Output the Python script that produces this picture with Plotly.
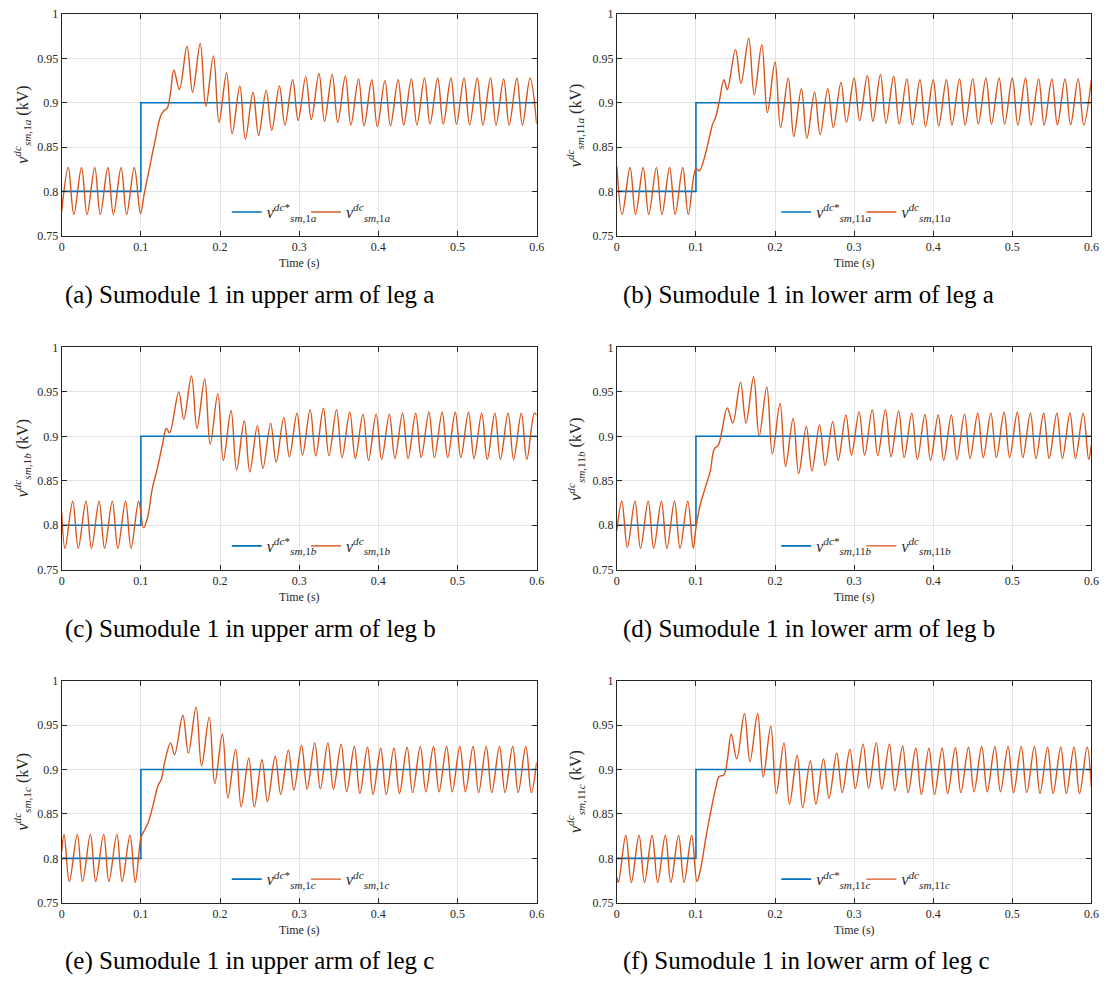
import plotly.graph_objects as go

# ---------------- data ----------------
# reference step (kV): 0.8 before t = 0.1 s, 0.9 after
step_t = [0, 0.1, 0.1, 0.6]
step_v = [0.8, 0.8, 0.9, 0.9]

x_ticks = [0, 0.1, 0.2, 0.3, 0.4, 0.5, 0.6]
y_ticks = [0.75, 0.8, 0.85, 0.9, 0.95, 1]

# measured capacitor voltage: (time s, value kV) at the read extrema / shape points
meas_a = [(0, 0.778), (0.0083, 0.827), (0.0153, 0.774), (0.025, 0.827), (0.032, 0.774), (0.0417, 0.827),
          (0.0487, 0.774), (0.0583, 0.827), (0.0653, 0.774), (0.075, 0.827), (0.082, 0.774), (0.0917, 0.827),
          (0.0995, 0.775), (0.1042, 0.797), (0.1083, 0.815), (0.1167, 0.852), (0.125, 0.885), (0.1292, 0.891),
          (0.1333, 0.894), (0.1375, 0.912), (0.1417, 0.937), (0.1487, 0.915), (0.1583, 0.964), (0.1653, 0.912),
          (0.175, 0.967), (0.182, 0.896), (0.1917, 0.953), (0.1987, 0.878), (0.2083, 0.934), (0.2153, 0.865),
          (0.225, 0.919), (0.232, 0.859), (0.2417, 0.912), (0.2487, 0.863), (0.2583, 0.914), (0.2653, 0.869),
          (0.275, 0.919), (0.282, 0.875), (0.2917, 0.926), (0.2987, 0.880), (0.3083, 0.9295), (0.3153, 0.881),
          (0.325, 0.933), (0.332, 0.879), (0.3417, 0.932), (0.3487, 0.878), (0.3583, 0.930), (0.3653, 0.875),
          (0.375, 0.927), (0.382, 0.874), (0.3917, 0.926), (0.3987, 0.873), (0.4083, 0.925), (0.4153, 0.874),
          (0.425, 0.926), (0.432, 0.875), (0.4417, 0.927), (0.4487, 0.875), (0.4583, 0.928), (0.4653, 0.876),
          (0.475, 0.928), (0.482, 0.876), (0.4917, 0.928), (0.4987, 0.876), (0.5083, 0.928), (0.5153, 0.875),
          (0.525, 0.928), (0.532, 0.875), (0.5417, 0.928), (0.5487, 0.875), (0.5583, 0.927), (0.5653, 0.875),
          (0.575, 0.928), (0.582, 0.875), (0.5917, 0.928), (0.6, 0.876)]

meas_b = [(0, 0.828), (0.0067, 0.774), (0.0167, 0.827), (0.0237, 0.774), (0.0333, 0.827), (0.0403, 0.774),
          (0.05, 0.827), (0.057, 0.774), (0.0667, 0.827), (0.0737, 0.774), (0.0833, 0.827), (0.0903, 0.774),
          (0.1, 0.826), (0.1042, 0.823), (0.1104, 0.837), (0.1167, 0.860), (0.1208, 0.875), (0.125, 0.884),
          (0.1292, 0.900), (0.1354, 0.926), (0.1396, 0.915), (0.15, 0.960), (0.157, 0.922), (0.1667, 0.973),
          (0.1737, 0.909), (0.1833, 0.9655), (0.1903, 0.889), (0.2, 0.946), (0.207, 0.872), (0.2167, 0.928),
          (0.2237, 0.862), (0.2333, 0.916), (0.2403, 0.860), (0.25, 0.912), (0.257, 0.864), (0.2667, 0.916),
          (0.2737, 0.872), (0.2833, 0.923), (0.2903, 0.878), (0.3, 0.928), (0.307, 0.880), (0.3167, 0.931),
          (0.3237, 0.879), (0.3333, 0.932), (0.3403, 0.877), (0.35, 0.930), (0.357, 0.876), (0.3667, 0.927),
          (0.3737, 0.875), (0.3833, 0.926), (0.3903, 0.873), (0.4, 0.926), (0.407, 0.874), (0.4167, 0.926),
          (0.4237, 0.875), (0.4333, 0.927), (0.4403, 0.875), (0.45, 0.927), (0.457, 0.876), (0.4667, 0.928),
          (0.4737, 0.876), (0.4833, 0.928), (0.4903, 0.876), (0.5, 0.928), (0.507, 0.875), (0.5167, 0.928),
          (0.5237, 0.875), (0.5333, 0.927), (0.5403, 0.875), (0.55, 0.927), (0.557, 0.875), (0.5667, 0.927),
          (0.5737, 0.875), (0.5833, 0.927), (0.5903, 0.875), (0.6, 0.926)]

meas_c = [(0, 0.814), (0.0042, 0.774), (0.0139, 0.827), (0.0209, 0.774), (0.0306, 0.827), (0.0376, 0.774),
          (0.0472, 0.827), (0.0542, 0.774), (0.0639, 0.827), (0.0709, 0.774), (0.0806, 0.827), (0.0876, 0.774),
          (0.0972, 0.827), (0.1033, 0.797), (0.1083, 0.808), (0.1146, 0.842), (0.1208, 0.864), (0.1271, 0.890),
          (0.1321, 0.909), (0.1363, 0.904), (0.1479, 0.950), (0.1542, 0.919), (0.1639, 0.968), (0.1709, 0.909),
          (0.1806, 0.9645), (0.1876, 0.891), (0.1972, 0.948), (0.2042, 0.873), (0.2139, 0.929), (0.2209, 0.862),
          (0.2306, 0.9175), (0.2376, 0.860), (0.2472, 0.912), (0.2542, 0.864), (0.2639, 0.9146), (0.2709, 0.871),
          (0.2806, 0.921), (0.2876, 0.877), (0.2972, 0.926), (0.3042, 0.879), (0.3139, 0.930), (0.3209, 0.878),
          (0.3306, 0.9315), (0.3376, 0.878), (0.3472, 0.930), (0.3542, 0.876), (0.3639, 0.9275), (0.3709, 0.875),
          (0.3806, 0.925), (0.3876, 0.873), (0.3972, 0.925), (0.4042, 0.874), (0.4139, 0.925), (0.4209, 0.875),
          (0.4306, 0.926), (0.4376, 0.875), (0.4472, 0.926), (0.4542, 0.876), (0.4639, 0.927), (0.4709, 0.876),
          (0.4806, 0.927), (0.4876, 0.876), (0.4972, 0.927), (0.5042, 0.876), (0.5139, 0.927), (0.5209, 0.875),
          (0.5306, 0.926), (0.5376, 0.874), (0.5472, 0.926), (0.5542, 0.874), (0.5639, 0.926), (0.5709, 0.874),
          (0.5806, 0.926), (0.5876, 0.874), (0.5972, 0.926), (0.6, 0.924)]

meas_d = [(0, 0.794), (0.0063, 0.827), (0.0133, 0.775), (0.0229, 0.827), (0.0299, 0.774), (0.0396, 0.827),
          (0.0466, 0.774), (0.0563, 0.827), (0.0633, 0.774), (0.0729, 0.827), (0.0799, 0.774), (0.0896, 0.827),
          (0.0966, 0.774), (0.1, 0.797), (0.1054, 0.823), (0.1117, 0.842), (0.1179, 0.860), (0.1233, 0.886),
          (0.1283, 0.890), (0.1325, 0.9046), (0.1396, 0.932), (0.1466, 0.915), (0.1563, 0.961), (0.1633, 0.915),
          (0.1729, 0.967), (0.1799, 0.900), (0.1896, 0.9556), (0.1966, 0.880), (0.2063, 0.937), (0.2133, 0.866),
          (0.2229, 0.920), (0.2299, 0.858), (0.2396, 0.911), (0.2466, 0.861), (0.2563, 0.9127), (0.2633, 0.867),
          (0.2729, 0.9164), (0.2799, 0.873), (0.2896, 0.924), (0.2966, 0.879), (0.3063, 0.9275), (0.3133, 0.879),
          (0.3229, 0.930), (0.3299, 0.878), (0.3396, 0.930), (0.3466, 0.877), (0.3563, 0.9286), (0.3633, 0.876),
          (0.3729, 0.926), (0.3799, 0.874), (0.3896, 0.9246), (0.3966, 0.873), (0.4063, 0.924), (0.4133, 0.873),
          (0.4229, 0.924), (0.4299, 0.874), (0.4396, 0.925), (0.4466, 0.875), (0.4563, 0.926), (0.4633, 0.876),
          (0.4729, 0.926), (0.4799, 0.876), (0.4896, 0.927), (0.4966, 0.876), (0.5063, 0.927), (0.5133, 0.876),
          (0.5229, 0.926), (0.5299, 0.875), (0.5396, 0.926), (0.5466, 0.875), (0.5563, 0.926), (0.5633, 0.875),
          (0.5729, 0.926), (0.5799, 0.875), (0.5896, 0.926), (0.5966, 0.874), (0.6, 0.890)]

meas_e = [(0, 0.808), (0.003, 0.827), (0.0096, 0.774), (0.0197, 0.827), (0.0263, 0.774), (0.0363, 0.827),
          (0.0429, 0.774), (0.053, 0.827), (0.0596, 0.774), (0.0697, 0.827), (0.0763, 0.774), (0.0863, 0.826),
          (0.0929, 0.773), (0.1, 0.823), (0.1029, 0.829), (0.1092, 0.840), (0.1154, 0.860), (0.1217, 0.882),
          (0.1258, 0.889), (0.13, 0.908), (0.1375, 0.930), (0.1425, 0.9165), (0.153, 0.961), (0.16, 0.9186),
          (0.1697, 0.970), (0.1767, 0.904), (0.1863, 0.959), (0.1933, 0.884), (0.203, 0.940), (0.21, 0.868),
          (0.2197, 0.923), (0.2267, 0.858), (0.2363, 0.913), (0.2433, 0.858), (0.253, 0.911), (0.26, 0.864),
          (0.2697, 0.915), (0.2767, 0.872), (0.2863, 0.922), (0.2933, 0.877), (0.303, 0.927), (0.31, 0.878),
          (0.3197, 0.930), (0.3267, 0.878), (0.3363, 0.930), (0.3433, 0.878), (0.353, 0.9286), (0.36, 0.875),
          (0.3697, 0.926), (0.3767, 0.873), (0.3863, 0.925), (0.3933, 0.872), (0.403, 0.924), (0.41, 0.872),
          (0.4197, 0.924), (0.4267, 0.873), (0.4363, 0.925), (0.4433, 0.874), (0.453, 0.926), (0.46, 0.875),
          (0.4697, 0.926), (0.4767, 0.875), (0.4863, 0.926), (0.4933, 0.875), (0.503, 0.926), (0.51, 0.875),
          (0.5197, 0.926), (0.5267, 0.874), (0.5363, 0.926), (0.5433, 0.874), (0.553, 0.926), (0.56, 0.874),
          (0.5697, 0.926), (0.5767, 0.874), (0.5863, 0.926), (0.5933, 0.874), (0.6, 0.908)]

meas_f = [(0, 0.779), (0.002, 0.773), (0.0113, 0.826), (0.0183, 0.773), (0.028, 0.826), (0.035, 0.773),
          (0.0446, 0.826), (0.0516, 0.773), (0.0613, 0.826), (0.0683, 0.773), (0.078, 0.826), (0.085, 0.773),
          (0.0946, 0.826), (0.1013, 0.774), (0.1063, 0.790), (0.1125, 0.823), (0.1188, 0.853), (0.125, 0.879),
          (0.1292, 0.892), (0.1354, 0.894), (0.1396, 0.910), (0.1446, 0.940), (0.1516, 0.912), (0.1613, 0.963),
          (0.1683, 0.909), (0.178, 0.963), (0.185, 0.8917), (0.1946, 0.949), (0.2016, 0.873), (0.2113, 0.930),
          (0.2183, 0.861), (0.228, 0.916), (0.235, 0.857), (0.2446, 0.910), (0.2516, 0.861), (0.2613, 0.912),
          (0.2683, 0.8676), (0.278, 0.9186), (0.285, 0.874), (0.2946, 0.923), (0.3016, 0.879), (0.3113, 0.9286),
          (0.3183, 0.879), (0.328, 0.930), (0.335, 0.878), (0.3446, 0.9286), (0.3516, 0.876), (0.3613, 0.9265),
          (0.3683, 0.874), (0.378, 0.924), (0.385, 0.872), (0.3946, 0.924), (0.4016, 0.872), (0.4113, 0.924),
          (0.4183, 0.873), (0.428, 0.9245), (0.435, 0.874), (0.4446, 0.925), (0.4516, 0.875), (0.4613, 0.926),
          (0.4683, 0.875), (0.478, 0.926), (0.485, 0.875), (0.4946, 0.926), (0.5016, 0.874), (0.5113, 0.926),
          (0.5183, 0.874), (0.528, 0.926), (0.535, 0.873), (0.5446, 0.925), (0.5516, 0.873), (0.5613, 0.925),
          (0.5683, 0.873), (0.578, 0.925), (0.585, 0.873), (0.5946, 0.925), (0.6, 0.880)]

sub_ids = ["1a", "11a", "1b", "11b", "1c", "11c"]
captions = ["(a) Sumodule 1 in upper arm of leg a", "(b) Sumodule 1 in lower arm of leg a",
            "(c) Sumodule 1 in upper arm of leg b", "(d) Sumodule 1 in lower arm of leg b",
            "(e) Sumodule 1 in upper arm of leg c", "(f) Sumodule 1 in lower arm of leg c"]
measured = [meas_a, meas_b, meas_c, meas_d, meas_e, meas_f]

# ---------------- layout geometry (pixels) ----------------
W, H = 1109, 991
col_px = [(59.3, 539.0), (620.0, 1099.3)]
row_px = [(7.3, 232.0), (345.3, 570.7), (683.3, 908.7)]
ytitle_x = [19, 578]
caption_x = [61, 624]
caption_y = [292, 631, 968]
legend_x = [226, 781]
legend_step = [80, 86]

BLUE = "#0072BD"
ORANGE = "#D95319"
AX = "#262626"
GRID = "#E3E3E3"
SERIF = "Liberation Serif, Times New Roman, Times, serif"


def sub_label(sid):
    num = "".join(ch for ch in sid if ch.isdigit())
    let = "".join(ch for ch in sid if not ch.isdigit())
    return f"<i>sm</i>,{num}<i>{let}</i>"


def legend_name(k):
    return "legend" if k == 1 else f"legend{k}"


fig = go.Figure()
layout = dict(width=W, height=H, margin=dict(l=0, r=0, t=0, b=0),
              paper_bgcolor="white", plot_bgcolor="white", showlegend=True,
              font=dict(family=SERIF, color=AX),
              annotations=[])

for i in range(6):
    r, c = divmod(i, 2)
    n = i + 1
    xs = "" if n == 1 else str(n)
    lg_ref = legend_name(2 * i + 1)
    lg_meas = legend_name(2 * i + 2)
    pts = measured[i]
    sl = sub_label(sub_ids[i])

    fig.add_trace(go.Scatter(
        x=step_t, y=step_v, mode="lines", line=dict(color=BLUE, width=1.6),
        name=f"<i>v</i><sup><i>dc</i>*</sup><sub>{sl}</sub>",
        xaxis=f"x{xs}", yaxis=f"y{xs}", legend=lg_ref))
    fig.add_trace(go.Scatter(
        x=[p[0] for p in pts], y=[p[1] for p in pts], mode="lines",
        line=dict(color=ORANGE, width=1.4, shape="spline", smoothing=1.0),
        name=f"<i>v</i><sup><i>dc</i></sup><sub>{sl}</sub>",
        xaxis=f"x{xs}", yaxis=f"y{xs}", legend=lg_meas))

    x0, x1 = col_px[c]
    yt, yb = row_px[r]
    common = dict(showline=True, linecolor=AX, linewidth=1, mirror="ticks",
                  ticks="inside", ticklen=5, tickcolor=AX, tickwidth=1,
                  showgrid=True, gridcolor=GRID, gridwidth=1, zeroline=False,
                  tickfont=dict(family=SERIF, size=12, color=AX))
    layout[f"xaxis{xs}"] = dict(domain=[x0 / W, x1 / W], anchor=f"y{xs}",
                                range=[0, 0.6], tickvals=x_ticks,
                                ticktext=[f"{v:g}" for v in x_ticks], **common)
    layout[f"yaxis{xs}"] = dict(domain=[1 - yb / H, 1 - yt / H], anchor=f"x{xs}",
                                range=[0.75, 1], tickvals=y_ticks,
                                ticktext=[f"{v:g}" for v in y_ticks], **common)

    leg_common = dict(y=1 - (yb - 24) / H, xanchor="left", yanchor="middle",
                      orientation="h", bgcolor="rgba(0,0,0,0)", borderwidth=0,
                      font=dict(family=SERIF, size=16, color=AX), itemwidth=30)
    layout[lg_ref] = dict(x=legend_x[c] / W, **leg_common)
    layout[lg_meas] = dict(x=(legend_x[c] + legend_step[c]) / W, **leg_common)

    layout["annotations"].append(dict(
        x=(x0 + x1) / 2 / W, y=1 - (yb + 28) / H, xref="paper", yref="paper",
        text="Time (s)", showarrow=False, xanchor="center", yanchor="middle",
        font=dict(family=SERIF, size=12, color=AX)))
    layout["annotations"].append(dict(
        x=ytitle_x[c] / W, y=1 - (yt + yb) / 2 / H, xref="paper", yref="paper",
        text=f"<i>v</i><sup><i>dc</i></sup><sub>{sl}</sub> (kV)", showarrow=False,
        textangle=-90, xanchor="center", yanchor="middle",
        font=dict(family=SERIF, size=16, color=AX)))
    layout["annotations"].append(dict(
        x=caption_x[c] / W, y=1 - caption_y[r] / H, xref="paper", yref="paper",
        text=captions[i], showarrow=False, xanchor="left", yanchor="middle",
        font=dict(family=SERIF, size=25, color="black")))

fig.update_layout(**layout)
fig.write_html("out.html")
